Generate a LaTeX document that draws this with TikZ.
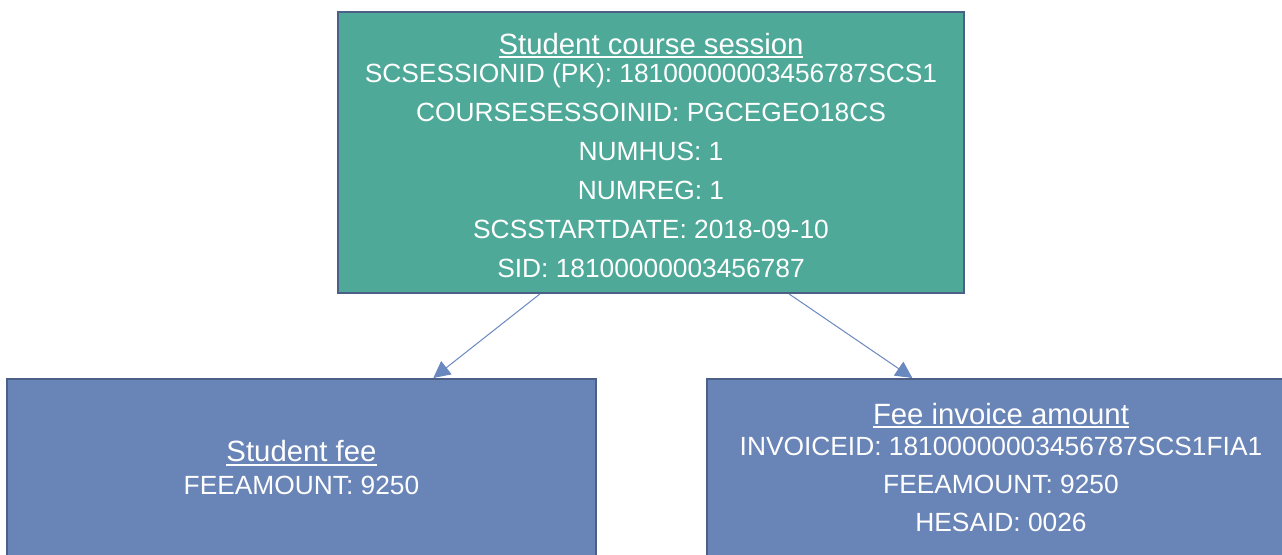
\documentclass[tikz,border=0pt]{standalone}
\usepackage{fontspec}
\setmainfont{Liberation Sans}
\usepackage{tikz}
\usetikzlibrary{arrows.meta,calc,positioning}
\definecolor{tealfill}{HTML}{4EA998}
\definecolor{bluefill}{HTML}{6984B6}
\definecolor{boxline}{HTML}{4C5F87}
\definecolor{arrowline}{HTML}{6A88C0}
\newcommand{\ultext}[1]{\setbox0\hbox{\fontsize{22}{29}\selectfont #1}\rlap{\rule[-3pt]{\wd0}{1.4pt}}\box0}

\begin{document}
\begin{tikzpicture}[x=0.75pt,y=0.75pt,yscale=-1,xscale=1]
  \tikzstyle{arrow} = [line width=0.75pt,arrowline,-{Triangle[length=12.5pt,width=12.5pt]}]
  \tikzstyle{entity} = [draw=boxline,line width=1.5pt,text=white,align=center,inner sep=0pt,
     font=\fontsize{19.75}{29.25}\selectfont]
  %set the page to the size of the reference
  \path[use as bounding box,fill=white] (0,0) rectangle (1282,554);
  %Draw the boxes
  \node[entity,fill=tealfill,minimum width=469.5pt,minimum height=210.75pt] (session) at (651,152.5)
    {\rule{0pt}{20pt}\ultext{Student course session}\\[-8.35pt]
     SCSESSIONID (PK): 18100000003456787SCS1\\
     COURSESESSOINID: PGCEGEO18CS\\
     NUMHUS: 1\\
     NUMREG: 1\\
     SCSSTARTDATE: 2018-09-10\\
     SID: 18100000003456787};
  \node[entity,fill=bluefill,minimum width=441.75pt,minimum height=132.75pt] (fee) at (301.5,467.5)
    {\ultext{Student fee}\\[-5pt]
     FEEAMOUNT: 9250};
  \node[entity,fill=bluefill,minimum width=441.75pt,minimum height=132.75pt] (invoice) at (1001,467.5)
    {\ultext{Fee invoice amount}\\[-6pt]
     INVOICEID: 18100000003456787SCS1FIA1\\[-0.5pt]
     FEEAMOUNT: 9250\\[-0.5pt]
     HESAID: 0026};
  %Draw the arrows
  \draw [arrow] ($(session.south west)!0.323!(session.south east)$) -- ($(fee.north west)!0.723!(fee.north east)$);
  \draw [arrow] ($(session.south west)!0.72!(session.south east)$) -- ($(invoice.north west)!0.35!(invoice.north east)$);
\end{tikzpicture}
\end{document}
